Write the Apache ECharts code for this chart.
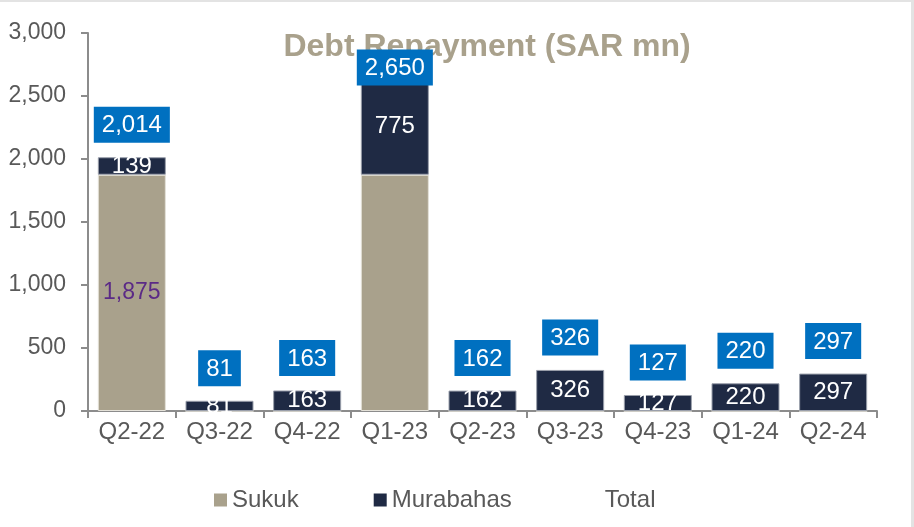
<!DOCTYPE html>
<html>
<head>
<meta charset="utf-8">
<script src="https://cdn.jsdelivr.net/npm/echarts@6/dist/echarts.min.js"></script>
<style>
  html, body { margin: 0; padding: 0; background: #fff; }
  #chart { width: 914px; height: 527px; box-sizing: border-box; border-top: 2px solid #e3e3e3; border-right: 3px solid #e3e3e3; }
</style>
</head>
<body>
<div id="chart"></div>
<script>
/** debt repayment chart */
var categories = ['Q2-22', 'Q3-22', 'Q4-22', 'Q1-23', 'Q2-23', 'Q3-23', 'Q4-23', 'Q1-24', 'Q2-24'];
var sukuk = [1875, 0, 0, 1875, 0, 0, 0, 0, 0];
var murabahas = [139, 81, 163, 775, 162, 326, 127, 220, 297];
var totals = [2014, 81, 163, 2650, 162, 326, 127, 220, 297];
var yTicks = [0, 500, 1000, 1500, 2000, 2500, 3000];

var FONT = 'Arial, "Liberation Sans", sans-serif';
var GREY = '#595959';

function fmt(v) {
    return String(v).replace(/\B(?=(\d{3})+(?!\d))/g, ',');
}

// only the first sukuk segment carries a label in the original
var sukukData = sukuk.map(function (v, i) {
    return { value: v, label: { show: i === 0 } };
});

// the Q1-23 total box sits lower, overlapping the bar
var totalData = totals.map(function (v, i) {
    return i === 3 ? { value: v, label: { distance: -9 } } : v;
});

var option = {
    animation: false,
    title: {
        text: 'Debt Repayment (SAR mn)',
        left: 482,
        top: 24,
        textAlign: 'center',
        z: 0,
        textStyle: { color: '#A9A18C', fontFamily: FONT, fontSize: 32, fontWeight: 'bold' }
    },
    legend: {
        left: 214,
        top: 486,
        padding: 0,
        itemWidth: 13,
        itemHeight: 13,
        itemGap: 75,
        icon: 'rect',
        itemStyle: { borderWidth: 0 },
        textStyle: { color: GREY, fontFamily: FONT, fontSize: 24 },
        data: ['Sukuk', 'Murabahas', 'Total']
    },
    grid: { left: 88, right: 34, top: 31, bottom: 116 },
    xAxis: {
        type: 'category',
        data: categories,
        axisLine: { lineStyle: { color: '#8c8c8c', width: 2 } },
        axisTick: { show: true, length: 7, lineStyle: { color: '#8c8c8c', width: 2 } },
        axisLabel: { color: GREY, fontFamily: FONT, fontSize: 24, margin: 9 }
    },
    yAxis: {
        type: 'value',
        min: yTicks[0],
        max: yTicks[yTicks.length - 1],
        interval: 500,
        splitLine: { show: false },
        axisLine: { show: true, lineStyle: { color: '#8c8c8c', width: 2 } },
        axisTick: { show: true, length: 7, lineStyle: { color: '#8c8c8c', width: 2 } },
        axisLabel: { color: GREY, fontFamily: FONT, fontSize: 23, margin: 22, formatter: fmt }
    },
    series: [
        {
            name: 'Sukuk',
            type: 'bar',
            stack: 'debt',
            barWidth: 68,
            data: sukukData,
            itemStyle: { color: '#A9A18C', borderColor: '#e4e1d8', borderWidth: 1 },
            label: {
                position: 'inside',
                color: '#5B2A86',
                fontFamily: FONT,
                fontSize: 23,
                formatter: function (p) { return fmt(p.value); }
            }
        },
        {
            name: 'Murabahas',
            type: 'bar',
            stack: 'debt',
            data: murabahas,
            itemStyle: { color: '#1F2A44', borderColor: '#9a9fab', borderWidth: 1 },
            label: {
                show: true,
                position: 'inside',
                color: '#ffffff',
                fontFamily: FONT,
                fontSize: 24,
                formatter: function (p) { return fmt(p.value); }
            }
        },
        {
            name: 'Total',
            type: 'line',
            data: totalData,
            symbol: 'circle',
            symbolSize: 1,
            lineStyle: { opacity: 0 },
            itemStyle: { color: 'rgba(0,0,0,0)' },
            z: 5,
            label: {
                show: true,
                position: 'top',
                distance: 14,
                color: '#ffffff',
                backgroundColor: '#0070C0',
                padding: [7, 8, 5, 8],
                fontFamily: FONT,
                fontSize: 24,
                formatter: function (p) { return fmt(p.value); }
            }
        }
    ]
};

var myChart = echarts.init(document.getElementById('chart'));
myChart.setOption(option);
</script>
</body>
</html>
